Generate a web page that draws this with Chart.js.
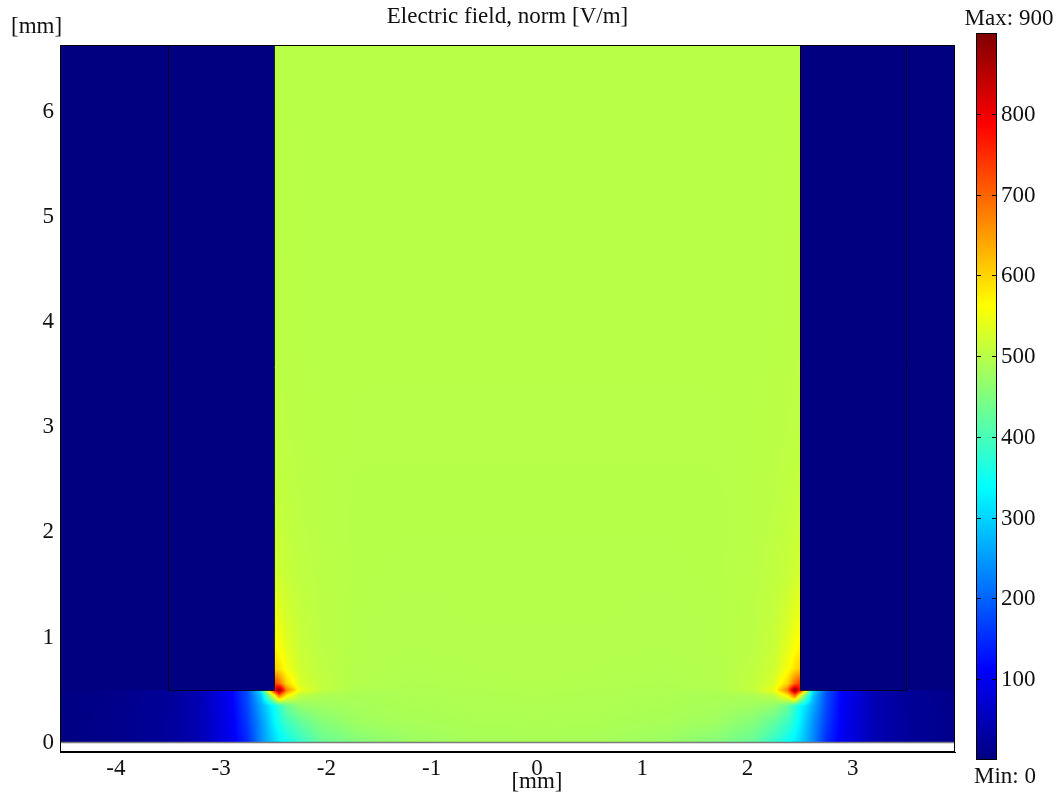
<!DOCTYPE html>
<html><head><meta charset="utf-8">
<script src="https://cdn.jsdelivr.net/npm/chart.js@4/dist/chart.umd.min.js"></script>
<style>html,body{margin:0;padding:0;background:#fff;}#wrap{width:1064px;height:797px;}</style>
</head><body><div id="wrap"><canvas id="c" width="1064" height="797"></canvas></div>
<script>
// ---- chart text ----
const titleText = 'Electric field, norm [V/m]';
const axisUnit = '[mm]';
// ---- axes ----
const xTicks = [-4, -3, -2, -1, 0, 1, 2, 3];
const yTicks = [0, 1, 2, 3, 4, 5, 6];
const xRange = [-4.53, 3.97];
const yRange = [-0.09, 6.64];
// ---- colour scale ----
const colorTicks = [100, 200, 300, 400, 500, 600, 700, 800];
const colorMin = 0;
const colorMax = 900;
// ---- geometry (mm) ----
const electrodeLeft = [-3.5, -2.5];
const electrodeRight = [2.5, 3.5];
const electrodeBottom = 0.5;
// ---- field samples (V/m) ----
const gridX = [-4.53, -4.0, -3.5, -3.2, -2.9, -2.75, -2.62, -2.5, -2.45, -2.38, -2.25, -2.05, -1.7, -1.2, -0.6, 0,
               0.6, 1.2, 1.7, 2.05, 2.25, 2.38, 2.45, 2.5, 2.62, 2.75, 2.9, 3.2, 3.5, 3.97];
const gridY = [0, 0.2, 0.35, 0.45, 0.5, 0.56, 0.7, 0.9, 1.2, 1.6, 2.2, 3.0, 4.0, 5.0, 6.64];
const row00  = [4, 10, 24, 46, 98, 150, 235, 300, 320, 345, 382, 428, 455, 475, 484, 487,  484, 475, 455, 428, 382, 345, 320, 300, 235, 150, 98, 46, 24, 10];
const row02  = [4, 10, 24, 47, 102, 165, 245, 325, 360, 392, 425, 455, 478, 486, 489, 490,  489, 486, 478, 455, 425, 392, 360, 325, 245, 165, 102, 47, 24, 10];
const row035 = [3, 9, 23, 47, 105, 175, 265, 340, 378, 430, 468, 478, 485, 489, 491, 492,  491, 489, 485, 478, 468, 430, 378, 340, 265, 175, 105, 47, 23, 9];
const row045 = [3, 8, 22, 46, 108, 180, 290, 550, 700, 580, 505, 490, 488, 490, 492, 493,  492, 490, 488, 490, 505, 580, 700, 550, 290, 180, 108, 46, 22, 8];
const row05  = [3, 8, 22, 46, 110, 185, 320, 770, 900, 680, 545, 508, 492, 491, 493, 494,  493, 491, 492, 508, 545, 680, 900, 770, 320, 185, 110, 46, 22, 8];
const row056 = [0, 0, 0, 0, 0, 0, 0, 740, 700, 600, 530, 508, 495, 493, 494, 495,  494, 493, 495, 508, 530, 600, 700, 740, 0, 0, 0, 0, 0, 0];
const row07  = [0, 0, 0, 0, 0, 0, 0, 610, 590, 555, 520, 505, 496, 494, 495, 496,  495, 494, 496, 505, 520, 555, 590, 610, 0, 0, 0, 0, 0, 0];
const row09  = [0, 0, 0, 0, 0, 0, 0, 570, 560, 538, 514, 503, 497, 495, 496, 496,  496, 495, 497, 503, 514, 538, 560, 570, 0, 0, 0, 0, 0, 0];
const row12  = [0, 0, 0, 0, 0, 0, 0, 548, 540, 525, 510, 502, 497, 496, 497, 497,  497, 496, 497, 502, 510, 525, 540, 548, 0, 0, 0, 0, 0, 0];
const row16  = [0, 0, 0, 0, 0, 0, 0, 525, 520, 513, 506, 501, 498, 497, 497, 497,  497, 497, 498, 501, 506, 513, 520, 525, 0, 0, 0, 0, 0, 0];
const row22  = [0, 0, 0, 0, 0, 0, 0, 512, 510, 507, 503, 500, 498, 498, 498, 498,  498, 498, 498, 500, 503, 507, 510, 512, 0, 0, 0, 0, 0, 0];
const row30  = [0, 0, 0, 0, 0, 0, 0, 505, 504, 503, 501, 500, 499, 499, 499, 499,  499, 499, 499, 500, 501, 503, 504, 505, 0, 0, 0, 0, 0, 0];
const row40  = [0, 0, 0, 0, 0, 0, 0, 502, 502, 501, 500, 500, 500, 500, 500, 500,  500, 500, 500, 500, 500, 501, 502, 502, 0, 0, 0, 0, 0, 0];
const row50  = [0, 0, 0, 0, 0, 0, 0, 501, 501, 501, 500, 500, 500, 500, 500, 500,  500, 500, 500, 500, 500, 501, 501, 501, 0, 0, 0, 0, 0, 0];
const row66  = [0, 0, 0, 0, 0, 0, 0, 500, 500, 500, 500, 500, 500, 500, 500, 500,  500, 500, 500, 500, 500, 500, 500, 500, 0, 0, 0, 0, 0, 0];
const fieldRows = [row00, row02, row035, row045, row05, row056, row07, row09, row12, row16, row22, row30, row40, row50, row66];

const FONT = 'Liberation Serif';
const FSIZE = 23;
const TXT = '#111';

function clamp01(v) { return v < 0 ? 0 : (v > 1 ? 1 : v); }
function jet(v) {
  const f = clamp01((v - colorMin) / (colorMax - colorMin));
  return [
    Math.round(255 * clamp01(Math.min(4 * f - 1.5, -4 * f + 4.5))),
    Math.round(255 * clamp01(Math.min(4 * f - 0.5, -4 * f + 3.5))),
    Math.round(255 * clamp01(Math.min(4 * f + 0.5, -4 * f + 2.5)))
  ];
}
function locate(arr, v) {
  if (v <= arr[0]) return [0, 0];
  const n = arr.length;
  if (v >= arr[n - 1]) return [n - 2, 1];
  for (let i = 0; i < n - 1; i++) {
    if (v >= arr[i] && v <= arr[i + 1]) return [i, (v - arr[i]) / (arr[i + 1] - arr[i])];
  }
  return [n - 2, 1];
}
function insideSolid(x, y) {
  return y > electrodeBottom && (x < electrodeLeft[1] || x > electrodeRight[0]);
}

const fieldPlugin = {
  id: 'fieldPlot',
  beforeDatasetsDraw(chart) {
    const ctx = chart.ctx, a = chart.chartArea;
    const xs = chart.scales.x, ys = chart.scales.y;
    const L = Math.round(a.left), T = Math.round(a.top), R = Math.round(a.right), B = Math.round(a.bottom);
    const w = R - L, h = B - T;
    const off = document.createElement('canvas');
    off.width = w; off.height = h;
    const octx = off.getContext('2d');
    const img = octx.createImageData(w, h);
    const colX = [], colY = [];
    for (let i = 0; i < w; i++) { const xv = xs.getValueForPixel(L + i + 0.5); colX.push([xv, locate(gridX, xv)]); }
    for (let j = 0; j < h; j++) { const yv = ys.getValueForPixel(T + j + 0.5); colY.push([yv, locate(gridY, yv)]); }
    for (let j = 0; j < h; j++) {
      const [yv, [iy, ty]] = colY[j];
      if (yv < 0) continue;
      const r0 = fieldRows[iy], r1 = fieldRows[Math.min(iy + 1, fieldRows.length - 1)];
      for (let i = 0; i < w; i++) {
        const [xv, [ix, tx]] = colX[i];
        let v;
        if (insideSolid(xv, yv)) v = 0;
        else {
          const a0 = r0[ix] * (1 - tx) + r0[ix + 1] * tx;
          const a1 = r1[ix] * (1 - tx) + r1[ix + 1] * tx;
          v = a0 * (1 - ty) + a1 * ty;
        }
        const c = jet(v);
        const k = (j * w + i) * 4;
        img.data[k] = c[0]; img.data[k + 1] = c[1]; img.data[k + 2] = c[2]; img.data[k + 3] = 255;
      }
    }
    octx.putImageData(img, 0, 0);
    ctx.save();
    ctx.drawImage(off, L, T);
    // domain boundary at y = 0
    const y0 = ys.getPixelForValue(0);
    ctx.strokeStyle = '#7a7a7a'; ctx.lineWidth = 1.5;
    ctx.beginPath(); ctx.moveTo(L, y0); ctx.lineTo(R, y0); ctx.stroke();
    // electrode outlines
    ctx.strokeStyle = 'rgba(0,0,20,0.85)'; ctx.lineWidth = 1;
    [electrodeLeft, electrodeRight].forEach(e => {
      const ex0 = Math.round(xs.getPixelForValue(e[0])) + 0.5;
      const ex1 = Math.round(xs.getPixelForValue(e[1])) + 0.5;
      const eb = Math.round(ys.getPixelForValue(electrodeBottom)) + 0.5;
      ctx.beginPath();
      ctx.moveTo(ex0, T); ctx.lineTo(ex0, eb); ctx.lineTo(ex1, eb); ctx.lineTo(ex1, T);
      ctx.stroke();
    });
    // frame
    ctx.strokeStyle = '#000'; ctx.lineWidth = 1;
    ctx.strokeRect(L + 0.5, T + 0.5, w - 1, h - 1);
    ctx.restore();
  },
  afterDraw(chart) {
    const ctx = chart.ctx, a = chart.chartArea;
    const xs = chart.scales.x;
    ctx.save();
    ctx.fillStyle = TXT;
    ctx.font = FSIZE + 'px "' + FONT + '"';
    // unit labels
    ctx.textAlign = 'left'; ctx.textBaseline = 'middle';
    ctx.fillText(axisUnit, 11, 27);
    ctx.textAlign = 'center';
    ctx.fillText(axisUnit, xs.getPixelForValue(0), 782);
    // colour bar
    const cbL = Math.round(a.right) + 21, cbR = cbL + 21, cbT = 33, cbB = 760;
    for (let y = cbT; y < cbB; y++) {
      const v = colorMin + (cbB - (y + 0.5)) / (cbB - cbT) * (colorMax - colorMin);
      const c = jet(v);
      ctx.fillStyle = 'rgb(' + c[0] + ',' + c[1] + ',' + c[2] + ')';
      ctx.fillRect(cbL, y, cbR - cbL, 1);
    }
    ctx.strokeStyle = '#000'; ctx.lineWidth = 1;
    ctx.strokeRect(cbL + 0.5, cbT + 0.5, cbR - cbL - 1, cbB - cbT - 1);
    ctx.fillStyle = TXT;
    ctx.textAlign = 'left'; ctx.textBaseline = 'middle';
    colorTicks.forEach(v => {
      const y = Math.round(cbB - (v - colorMin) / (colorMax - colorMin) * (cbB - cbT)) + 0.5;
      ctx.beginPath();
      ctx.moveTo(cbL, y); ctx.lineTo(cbL + 5, y);
      ctx.moveTo(cbR - 5, y); ctx.lineTo(cbR, y);
      ctx.stroke();
      ctx.fillText(String(v), cbR + 4, y);
    });
    ctx.textAlign = 'center';
    ctx.fillText('Max: ' + colorMax, 1009, 19);
    ctx.fillText('Min: ' + colorMin, 1005, 777);
    ctx.restore();
  }
};

const tickFont = { family: FONT, size: FSIZE };
new Chart(document.getElementById('c'), {
  type: 'scatter',
  data: { datasets: [{ data: [], showLine: false }] },
  options: {
    responsive: false, animation: false, devicePixelRatio: 1,
    layout: { padding: { left: 0, right: 109, top: 0, bottom: 0 } },
    plugins: {
      legend: { display: false }, tooltip: { enabled: false },
      title: { display: true, text: titleText, fullSize: false, color: TXT,
        font: { family: FONT, size: FSIZE, weight: 'normal' }, padding: { top: 3, bottom: 14.4 } }
    },
    scales: {
      x: {
        type: 'linear', min: xRange[0], max: xRange[1],
        grid: { display: false, drawTicks: false }, border: { display: true, color: '#000' },
        ticks: { font: tickFont, color: TXT, padding: 3, autoSkip: false, maxRotation: 0 },
        afterBuildTicks: s => { s.ticks = xTicks.map(v => ({ value: v })); },
        afterFit: s => { s.height = 45; }
      },
      y: {
        type: 'linear', min: yRange[0], max: yRange[1],
        grid: { display: false, drawTicks: false }, border: { display: true, color: '#000' },
        ticks: { font: tickFont, color: TXT, padding: 6, autoSkip: false },
        afterBuildTicks: s => { s.ticks = yTicks.map(v => ({ value: v })); },
        afterFit: s => { s.width = 60; }
      }
    }
  },
  plugins: [fieldPlugin]
});
</script></body></html>
